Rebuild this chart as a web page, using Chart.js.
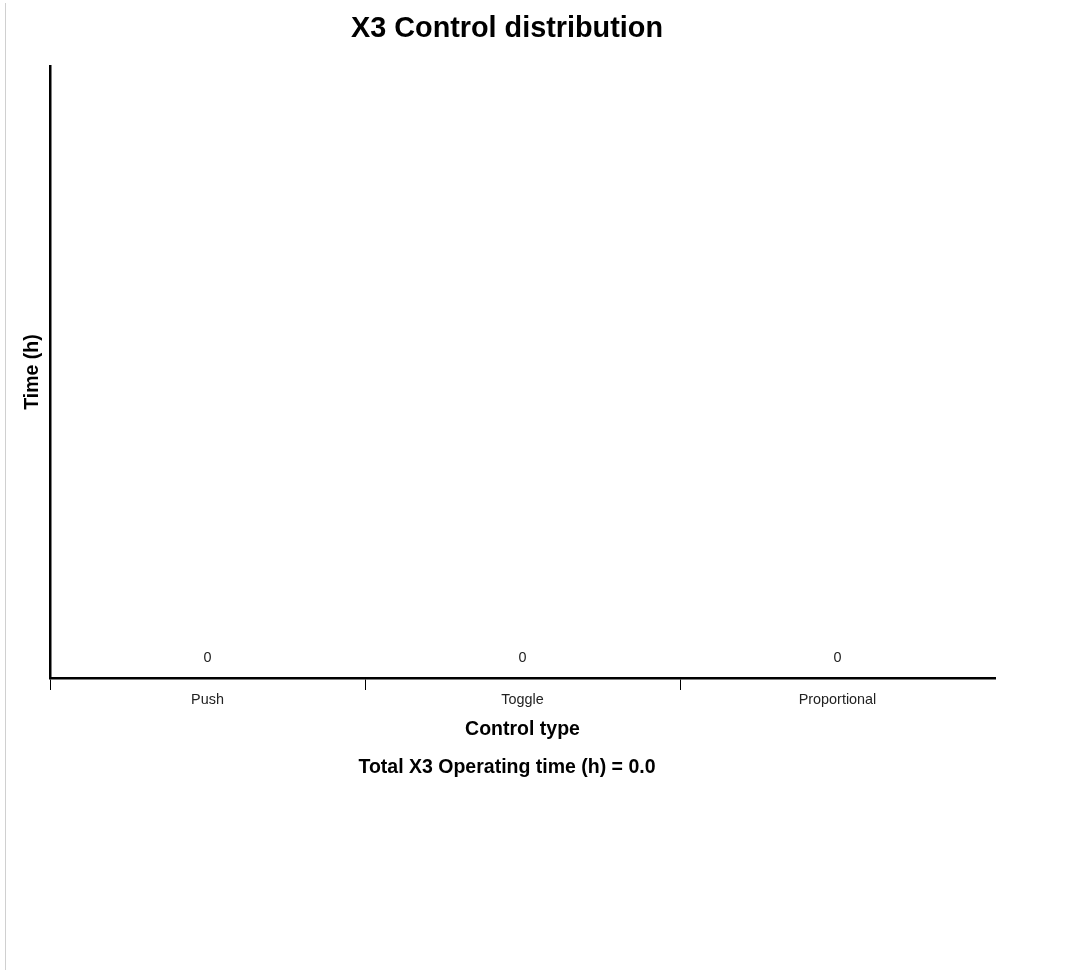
<!DOCTYPE html>
<html>
<head>
<meta charset="utf-8">
<script src="https://cdn.jsdelivr.net/npm/chart.js@4.4.1/dist/chart.umd.min.js"></script>
<style>
  html, body { margin: 0; padding: 0; background: #fff; }
  #wrap { position: absolute; left: 0; top: 0; width: 1068px; height: 970px; }
  #edge { position: absolute; left: 5px; top: 3px; bottom: 0; width: 0; border-left: 1px solid #d0d0d0; }
  canvas { position: absolute; left: 0; top: 0; }
</style>
</head>
<body>
<div id="wrap">
  <div id="edge"></div>
  <canvas id="c" width="1068" height="800"></canvas>
</div>
<script>
const categories = ['Push', 'Toggle', 'Proportional'];
const timeValues = [0, 0, 0];
const totalTime = '0.0';
const chartTitle = 'X3 Control distribution';
const xTitle = 'Control type';
const yTitle = 'Time (h)';

const FONT = "'Liberation Sans', Arial, Helvetica, sans-serif";

const valueLabels = {
  id: 'valueLabels',
  afterDatasetsDraw(chart) {
    const ctx = chart.ctx;
    ctx.save();
    ctx.font = '14.4px ' + FONT;
    ctx.fillStyle = '#222';
    ctx.textAlign = 'center';
    ctx.textBaseline = 'middle';
    chart.data.datasets.forEach((ds, di) => {
      chart.getDatasetMeta(di).data.forEach((el, i) => {
        ctx.fillText(String(ds.data[i]), el.x, el.y - 19.6);
      });
    });
    ctx.restore();
  }
};

new Chart(document.getElementById('c'), {
  type: 'bar',
  data: {
    labels: categories,
    datasets: [{
      label: yTitle,
      data: timeValues,
      backgroundColor: '#4472c4'
    }]
  },
  options: {
    responsive: false,
    animation: false,
    events: [],
    layout: { padding: { left: 19, right: 73, top: 0, bottom: 20.7 } },
    plugins: {
      legend: { display: false },
      tooltip: { enabled: false },
      title: {
        display: true,
        text: chartTitle,
        color: '#000',
        font: { family: FONT, size: 28.8, weight: 'bold' },
        padding: { top: 11.5, bottom: 19.9 }
      },
      subtitle: {
        display: true,
        position: 'bottom',
        text: 'Total X3 Operating time (h) = ' + totalTime,
        color: '#000',
        font: { family: FONT, size: 19.5, weight: 'bold' },
        padding: { top: 11, bottom: 0 }
      }
    },
    scales: {
      x: {
        offset: true,
        afterFit(s) { s.height = 66.9; },
        grid: {
          display: true,
          drawOnChartArea: false,
          drawTicks: true,
          tickLength: 12,
          lineWidth: 1,
          offset: true,
          color: (c) => c.type === 'tick' ? '#000' : 'rgba(0,0,0,0)'
        },
        border: { display: true, color: '#000', width: 2.5 },
        ticks: {
          color: '#222',
          padding: 1.8,
          font: { family: FONT, size: 14.4 }
        },
        title: {
          display: true,
          text: xTitle,
          color: '#000',
          font: { family: FONT, size: 19.5, weight: 'bold' },
          padding: { top: 4, bottom: 4 }
        }
      },
      y: {
        min: 0,
        max: 1,
        afterFit(s) { s.width = 31; },
        grid: { display: false, drawTicks: false },
        border: { display: true, color: '#000', width: 2.5 },
        ticks: { display: false },
        title: {
          display: true,
          text: yTitle,
          color: '#000',
          font: { family: FONT, size: 19.5, weight: 'bold' },
          padding: { top: 2, bottom: 2 }
        }
      }
    }
  },
  plugins: [valueLabels]
});
</script>
</body>
</html>
